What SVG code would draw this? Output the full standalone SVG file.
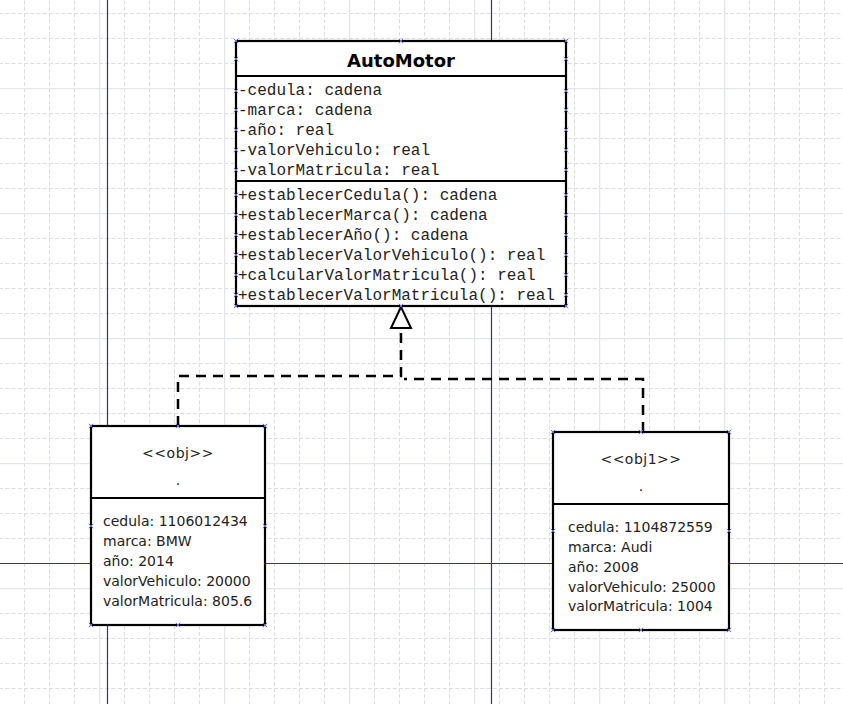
<svg xmlns="http://www.w3.org/2000/svg" width="843" height="704" viewBox="0 0 843 704">
<defs>
<style>
.box{fill:#fff;stroke:#000;stroke-width:2.2}
.div{stroke:#000;stroke-width:2.2}
.title{font-family:"DejaVu Sans",sans-serif;font-weight:bold;font-size:18px;fill:#000}
.mono{font-family:"Liberation Mono","Courier New",monospace;font-size:16px;fill:#222}
.obj{font-family:"DejaVu Sans","Noto Sans",sans-serif;font-size:14px;fill:#222}
.blue{stroke:#2e2ea6;stroke-width:1.2}
.dash{fill:none;stroke:#000;stroke-width:2.5;stroke-dasharray:10 7}
.mk{fill:none;stroke:#6a6ad0;stroke-width:1}
</style>
<pattern id="minor" patternUnits="userSpaceOnUse" x="-1" y="13" width="25" height="25">
<path d="M0.5,0 V25 M0,0.5 H25" fill="none" stroke="#dcdcdc" stroke-width="1" stroke-dasharray="4 2.25"/>
</pattern>
<pattern id="major" patternUnits="userSpaceOnUse" x="-26" y="88" width="125" height="125">
<path d="M0.5,0 V125 M0,0.5 H125" fill="none" stroke="#e2e6ea" stroke-width="1.5"/>
</pattern>
<path id="x" class="mk" d="M-2.2,-2.2 L2.2,2.2 M-2.2,2.2 L2.2,-2.2"/>
</defs>
<rect width="843" height="704" fill="#fff"/>
<rect width="843" height="704" fill="url(#minor)"/>
<rect width="843" height="704" fill="url(#major)"/>
<g id="guides">
<line class="blue" x1="107.5" y1="0" x2="107.5" y2="704"/>
<line class="blue" x1="491.5" y1="0" x2="491.5" y2="704"/>
<line class="blue" x1="0" y1="563.5" x2="843" y2="563.5"/>
</g>
<g id="connectors">
<polyline class="dash" points="178,426 178,376 401,376 401,328"/>
<polyline class="dash" points="643,432 643,379 404,379"/>
<polygon points="401,307 391,328 411,328" fill="#fff" stroke="#000" stroke-width="2"/>
</g>
<g id="AutoMotor">
<rect class="box" x="236" y="41" width="330" height="265"/>
<line class="div" x1="236" y1="76" x2="566" y2="76"/>
<line class="div" x1="236" y1="181" x2="566" y2="181"/>
<text class="title" x="401" y="67" text-anchor="middle">AutoMotor</text>
<text class="mono" x="238" y="95">-cedula: cadena</text>
<text class="mono" x="238" y="115">-marca: cadena</text>
<text class="mono" x="238" y="135">-año: real</text>
<text class="mono" x="238" y="155">-valorVehiculo: real</text>
<text class="mono" x="238" y="175">-valorMatricula: real</text>
<text class="mono" x="238" y="200">+establecerCedula(): cadena</text>
<text class="mono" x="238" y="220">+establecerMarca(): cadena</text>
<text class="mono" x="238" y="240">+establecerAño(): cadena</text>
<text class="mono" x="238" y="260">+establecerValorVehiculo(): real</text>
<text class="mono" x="238" y="280">+calcularValorMatricula(): real</text>
<text class="mono" x="238" y="300">+establecerValorMatricula(): real</text>
</g>
<g id="obj">
<rect class="box" x="91" y="426" width="174" height="199"/>
<line class="div" x1="91" y1="498" x2="265" y2="498"/>
<text class="obj" x="178" y="458" text-anchor="middle" letter-spacing="0.5">&lt;&lt;obj&gt;&gt;</text>
<text class="obj" x="178" y="485" text-anchor="middle">.</text>
<text class="obj" x="103" y="526">cedula: 1106012434</text>
<text class="obj" x="103" y="546">marca: BMW</text>
<text class="obj" x="103" y="566">año: 2014</text>
<text class="obj" x="103" y="586">valorVehiculo: 20000</text>
<text class="obj" x="103" y="606">valorMatricula: 805.6</text>
</g>
<g id="obj1">
<rect class="box" x="553" y="432" width="176" height="198"/>
<line class="div" x1="553" y1="504" x2="729" y2="504"/>
<text class="obj" x="641" y="464" text-anchor="middle" letter-spacing="0.5">&lt;&lt;obj1&gt;&gt;</text>
<text class="obj" x="641" y="491" text-anchor="middle">.</text>
<text class="obj" x="568" y="532">cedula: 1104872559</text>
<text class="obj" x="568" y="552">marca: Audi</text>
<text class="obj" x="568" y="572">año: 2008</text>
<text class="obj" x="568" y="592">valorVehiculo: 25000</text>
<text class="obj" x="568" y="611">valorMatricula: 1004</text>
</g>
<g id="markers">
<use href="#x" x="236" y="41"/><use href="#x" x="401" y="41"/><use href="#x" x="566" y="41"/>
<use href="#x" x="236" y="59"/><use href="#x" x="566" y="59"/>
<use href="#x" x="236" y="91"/><use href="#x" x="566" y="91"/>
<use href="#x" x="236" y="110"/><use href="#x" x="566" y="110"/>
<use href="#x" x="236" y="130"/><use href="#x" x="566" y="130"/>
<use href="#x" x="236" y="150"/><use href="#x" x="566" y="150"/>
<use href="#x" x="236" y="170"/><use href="#x" x="566" y="170"/>
<use href="#x" x="236" y="195"/><use href="#x" x="566" y="195"/>
<use href="#x" x="236" y="215"/><use href="#x" x="566" y="215"/>
<use href="#x" x="236" y="235"/><use href="#x" x="566" y="235"/>
<use href="#x" x="236" y="255"/><use href="#x" x="566" y="255"/>
<use href="#x" x="236" y="275"/><use href="#x" x="566" y="275"/>
<use href="#x" x="236" y="295"/><use href="#x" x="566" y="295"/>
<use href="#x" x="236" y="306"/><use href="#x" x="401" y="306"/><use href="#x" x="566" y="306"/>
<use href="#x" x="91" y="426"/><use href="#x" x="178" y="426"/><use href="#x" x="265" y="426"/>
<use href="#x" x="91" y="526"/><use href="#x" x="265" y="526"/>
<use href="#x" x="91" y="625"/><use href="#x" x="178" y="625"/><use href="#x" x="265" y="625"/>
<use href="#x" x="553" y="432"/><use href="#x" x="641" y="432"/><use href="#x" x="729" y="432"/>
<use href="#x" x="553" y="531"/><use href="#x" x="729" y="531"/>
<use href="#x" x="553" y="630"/><use href="#x" x="641" y="630"/><use href="#x" x="729" y="630"/>
</g>
</svg>
